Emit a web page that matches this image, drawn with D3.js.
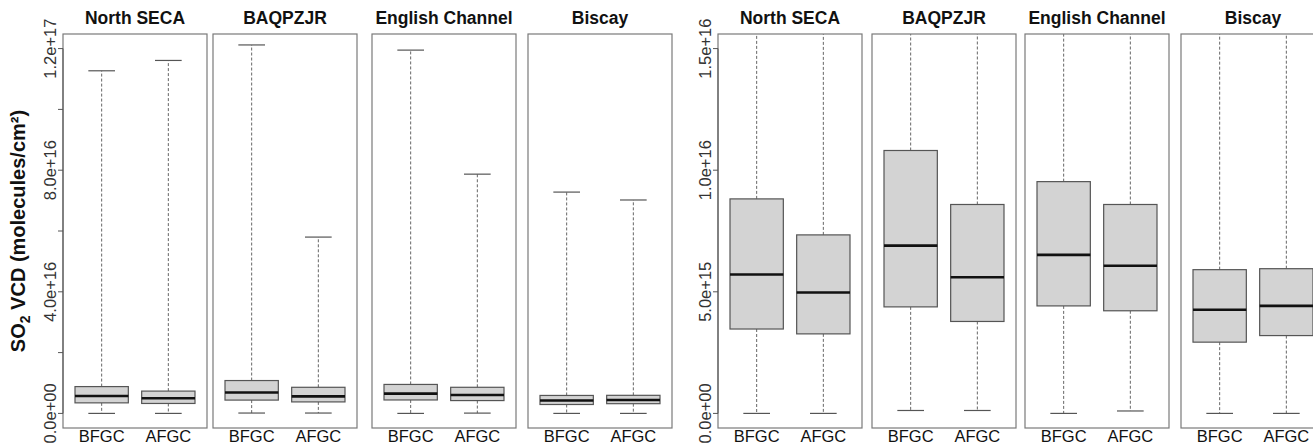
<!DOCTYPE html>
<html>
<head>
<meta charset="utf-8">
<script src="https://cdn.jsdelivr.net/npm/d3@7"></script>
<style>
  html, body { margin: 0; padding: 0; background: #fff; }
  svg { display: block; font-family: "Liberation Sans", Arial, sans-serif; }
</style>
</head>
<body>
<svg id="chart" width="1313" height="445"></svg>
<script>
// ---- data -----------------------------------------------------------------
const regions = ["North SECA", "BAQPZJR", "English Channel", "Biscay"];
const groups  = ["BFGC", "AFGC"];

// per region: [BFGC, AFGC], molecules/cm²
const whiskerLow  = [[0, 0],             [1.2e14, 1.2e14],   [0, 1.0e14],        [0, 0]];
const q1          = [[3.47e15, 3.27e15], [4.38e15, 3.78e15], [4.42e15, 4.22e15], [2.93e15, 3.20e15]];
const median      = [[5.71e15, 4.97e15], [6.90e15, 5.60e15], [6.52e15, 6.07e15], [4.26e15, 4.42e15]];
const q3          = [[8.82e15, 7.34e15], [1.081e16, 8.59e15],[9.53e15, 8.59e15], [5.91e15, 5.95e15]];
const whiskerHigh = [[1.127e17, 1.161e17],[1.212e17, 5.8e16], [1.195e17, 7.87e16],[7.28e16, 7.02e16]];

const leftTicks   = [0, 2e16, 4e16, 6e16, 8e16, 1e17, 1.2e17];
const leftLabels  = ["0.0e+00", "", "4.0e+16", "", "8.0e+16", "", "1.2e+17"];
const rightTicks  = [0, 5e15, 1e16, 1.5e16];
const rightLabels = ["0.0e+00", "5.0e+15", "1.0e+16", "1.5e+16"];

// ---- layout -----------------------------------------------------------------
const TOP = 34, BOTTOM = 428, PW = 144;
const sides = [
  { xs: [63, 213, 372, 528],    ylim: [0, 1.2e17], ticks: leftTicks,  labels: leftLabels  },
  { xs: [718, 872, 1025, 1181], ylim: [0, 1.5e16], ticks: rightTicks, labels: rightLabels }
];

const svg = d3.select("#chart");
const defs = svg.append("defs");

sides.forEach((side, si) => {
  const pad = (side.ylim[1] - side.ylim[0]) * 0.04;   // R's 4% axis extension
  const y = d3.scaleLinear().domain([side.ylim[0] - pad, side.ylim[1] + pad]).range([BOTTOM, TOP]);

  regions.forEach((reg, ri) => {
    const x0 = side.xs[ri];
    const x = d3.scaleLinear().domain([0.42, 2.58]).range([x0, x0 + PW]);
    const clipId = `clip-${si}-${ri}`;
    defs.append("clipPath").attr("id", clipId)
      .append("rect").attr("x", x0).attr("y", TOP).attr("width", PW).attr("height", BOTTOM - TOP);

    const g = svg.append("g");
    const plot = g.append("g").attr("clip-path", `url(#${clipId})`);

    const rows = groups.map((grp, gi) => ({
      grp, pos: gi + 1,
      lo: whiskerLow[ri][gi], q1: q1[ri][gi], med: median[ri][gi],
      q3: q3[ri][gi], hi: whiskerHigh[ri][gi]
    }));

    const bw = x(1.8) - x(1), cw = bw / 2;   // box width 0.8, caps half of it
    const b = plot.selectAll("g.box").data(rows).join("g").attr("class", "box");

    // dashed whiskers
    b.append("line").attr("x1", d => x(d.pos)).attr("x2", d => x(d.pos))
      .attr("y1", d => y(d.q3)).attr("y2", d => y(d.hi))
      .attr("stroke", "#666").attr("stroke-dasharray", "3,2");
    b.append("line").attr("x1", d => x(d.pos)).attr("x2", d => x(d.pos))
      .attr("y1", d => y(d.q1)).attr("y2", d => y(d.lo))
      .attr("stroke", "#666").attr("stroke-dasharray", "3,2");
    // caps
    [d => d.hi, d => d.lo].forEach(f => {
      b.append("line").attr("x1", d => x(d.pos) - cw / 2).attr("x2", d => x(d.pos) + cw / 2)
        .attr("y1", d => y(f(d))).attr("y2", d => y(f(d)))
        .attr("stroke", "#555").attr("stroke-width", 1.2);
    });
    // box
    b.append("rect").attr("x", d => x(d.pos) - bw / 2).attr("width", bw)
      .attr("y", d => y(d.q3)).attr("height", d => y(d.q1) - y(d.q3))
      .attr("fill", "#d3d3d3").attr("stroke", "#555").attr("stroke-width", 1.2);
    // median
    b.append("line").attr("x1", d => x(d.pos) - bw / 2).attr("x2", d => x(d.pos) + bw / 2)
      .attr("y1", d => y(d.med)).attr("y2", d => y(d.med))
      .attr("stroke", "#111").attr("stroke-width", 2.6);

    // frame
    g.append("rect").attr("x", x0).attr("y", TOP).attr("width", PW).attr("height", BOTTOM - TOP)
      .attr("fill", "none").attr("stroke", "#7a7a7a").attr("stroke-width", 1.2);

    // title
    g.append("text").attr("x", x0 + PW / 2).attr("y", 24).attr("text-anchor", "middle")
      .attr("font-weight", "bold").attr("font-size", 17.5).attr("fill", "#111").text(reg);

    // group labels
    g.selectAll("text.grp").data(rows).join("text").attr("class", "grp")
      .attr("x", d => x(d.pos)).attr("y", 442).attr("text-anchor", "middle")
      .attr("font-size", 16.5).attr("fill", "#111").text(d => d.grp);

    // y axis on first panel of each side
    if (ri === 0) {
      const ax = g.append("g");
      ax.append("line").attr("x1", x0).attr("x2", x0)
        .attr("y1", y(side.ticks[0])).attr("y2", y(side.ticks[side.ticks.length - 1]))
        .attr("stroke", "#555");
      ax.selectAll("line.tk").data(side.ticks).join("line").attr("class", "tk")
        .attr("x1", x0 - 5).attr("x2", x0).attr("y1", d => y(d)).attr("y2", d => y(d))
        .attr("stroke", "#555");
      ax.selectAll("text").data(side.ticks).join("text")
        .attr("transform", d => `translate(${x0 - 7},${y(d)}) rotate(-90)`)
        .attr("text-anchor", "middle").attr("font-size", 16.5).attr("fill", "#333")
        .text((d, i) => side.labels[i]);
    }
  });
});

// y axis title
const yt = svg.append("text")
  .attr("transform", `translate(25,${(TOP + BOTTOM) / 2}) rotate(-90)`)
  .attr("text-anchor", "middle").attr("font-weight", "bold").attr("font-size", 20).attr("fill", "#111");
yt.append("tspan").text("SO");
yt.append("tspan").attr("font-size", 14).attr("dy", 5).text("2");
yt.append("tspan").attr("dy", -5).text(" VCD (molecules/cm²)");
</script>
</body>
</html>
